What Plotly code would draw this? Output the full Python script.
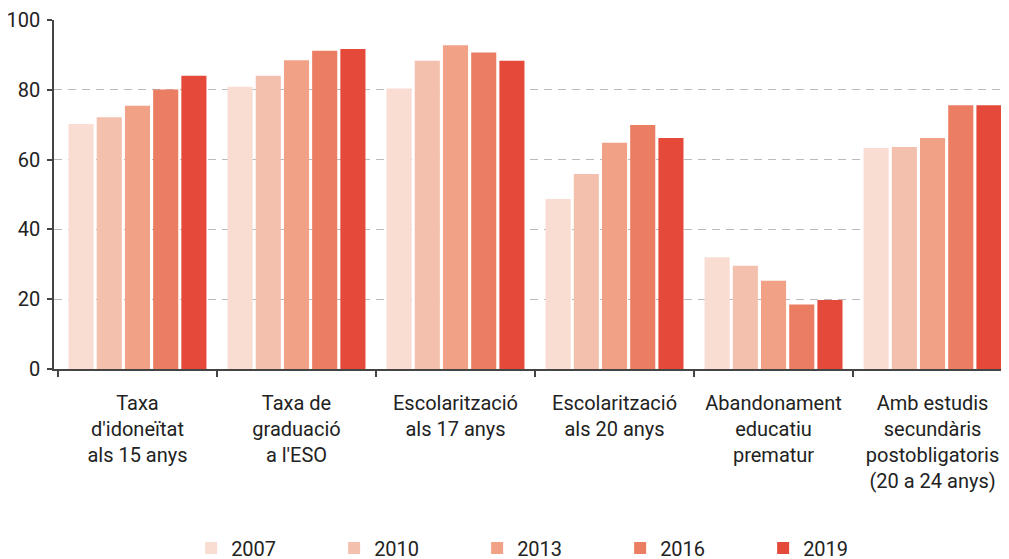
import plotly.graph_objects as go

categories = [
    "Taxa<br>d'idoneïtat<br>als 15 anys",
    "Taxa de<br>graduació<br>a l'ESO",
    "Escolarització<br>als 17 anys",
    "Escolarització<br>als 20 anys",
    "Abandonament<br>educatiu<br>prematur",
    "Amb estudis<br>secundàris<br>postobligatoris<br>(20 a 24 anys)",
]
years = ["2007", "2010", "2013", "2016", "2019"]
values_2007 = [70.2, 80.9, 80.4, 48.7, 32.0, 63.3]
values_2010 = [72.1, 84.0, 88.3, 55.9, 29.6, 63.6]
values_2013 = [75.4, 88.5, 92.8, 64.8, 25.3, 66.2]
values_2016 = [80.1, 91.2, 90.7, 69.9, 18.5, 75.6]
values_2019 = [84.0, 91.7, 88.3, 66.2, 19.8, 75.6]
series = [values_2007, values_2010, values_2013, values_2016, values_2019]
colors = ["#F9DCD2", "#F4C0AE", "#F0A186", "#EB7E62", "#E5493A"]
y_ticks = [0, 20, 40, 60, 80, 100]

fig = go.Figure()
for yr, vals, col in zip(years, series, colors):
    fig.add_trace(go.Bar(
        x=categories, y=vals, name=yr,
        marker=dict(color=col, line=dict(width=0)),
    ))

fig.update_layout(
    width=1009, height=559,
    margin=dict(l=46, r=14, t=12, b=198),
    paper_bgcolor="white", plot_bgcolor="white",
    barmode="group", bargap=0.113, bargroupgap=0.11,
    font=dict(family="Roboto", color="#222222"),
    showlegend=True,
    legend=dict(
        orientation="h", xref="container", yref="container",
        x=0.1815, xanchor="left", y=0.034, yanchor="middle",
        entrywidth=98, entrywidthmode="pixels",
        font=dict(size=20, color="#222222", family="Roboto"),
        traceorder="normal",
    ),
)
fig.update_xaxes(
    range=[-0.525, 5.443], automargin=False,
    showline=True, linecolor="#444444", linewidth=1.5,
    ticks="outside", tickson="boundaries", ticklen=6, tickcolor="#444444", tickwidth=1.5,
    tickfont=dict(size=20, color="#222222"),
    ticklabelstandoff=15,
    showgrid=False,
)
fig.update_yaxes(
    range=[0, 100], tickvals=y_ticks, automargin=False,
    showline=True, linecolor="#444444", linewidth=1.5,
    ticks="outside", ticklen=5, tickcolor="#444444", tickwidth=1.5,
    tickfont=dict(size=20, color="#222222"),
    ticklabelstandoff=3,
    showgrid=True, gridcolor="#BBBBBB", gridwidth=1, griddash="8px,6px",
    zeroline=False,
)
fig.write_html("out.html")
